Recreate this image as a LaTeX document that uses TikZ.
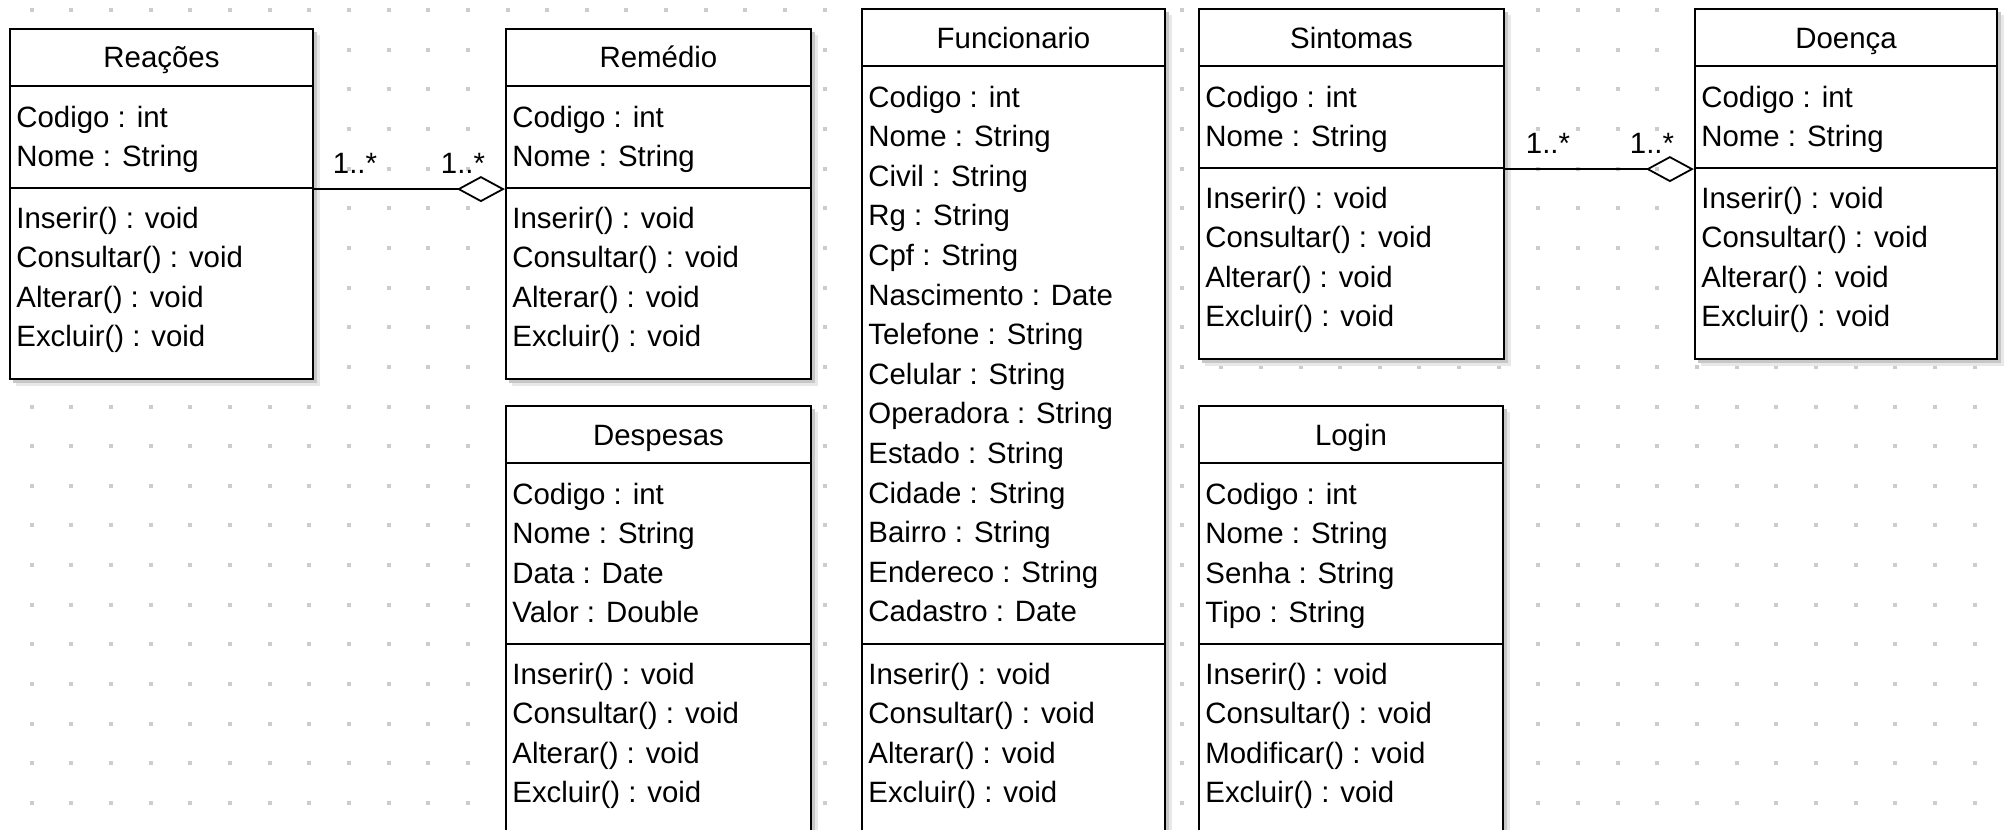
\documentclass[tikz,border=0pt]{standalone}
\usepackage{fontspec}
\setmainfont{Liberation Sans}
\usetikzlibrary{fit,arrows.meta}
\tikzset{
  umlbox/.style={draw=black, fill=white, line width=1.1pt, inner sep=0pt},
  rowtext/.style={anchor=base west, inner sep=0pt, font=\fontsize{14.7}{17}\selectfont},
  titletext/.style={anchor=base, inner sep=0pt, font=\fontsize{14.7}{17}\selectfont},
  mult/.style={anchor=base, inner sep=0pt, font=\fontsize{14.7}{17}\selectfont},
  assoc/.style={draw=black, line width=0.9pt, -{Diamond[open, length=24pt, width=13pt, line width=0.9pt]}},
  griddot/.style={fill=black!20},
  shadowfar/.style={fill=black!9},
  shadownear/.style={fill=black!22},
}
% #1 name, #2 L, #3 R, #4 T, #5 H1, #6 H2, #7 B, #8 title, #9 attributes
\newcommand\umlclass[9]{%
  \fill[shadowfar] (#2+6,#4+6) rectangle (#3+7,#7+7);
  \fill[shadownear] (#2+3,#4+3) rectangle (#3+4,#7+4);
  \node[umlbox, fit={(#2,#4) (#3,#5)}] (#1-title) {};
  \node[umlbox, fit={(#2,#5) (#3,#6)}] (#1-attr) {};
  \node[umlbox, fit={(#2,#6) (#3,#7)}] (#1-meth) {};
  \node[titletext] (#1-name) at ({(#2+#3)/2},{#4+39}) {#8};
  \foreach \t [count=\i] in {#9}
    \node[rowtext] (#1-a\i) at ({#2+6},{#5+41+(\i-1)*39.6}) {\t};
}
% #1 name, #2 L, #3 H2, #4 operations
\newcommand\umlops[4]{%
  \foreach \t [count=\i] in {#4}
    \node[rowtext] (#1-o\i) at ({#2+6},{#3+40+(\i-1)*39.6}) {\t};
}
\begin{document}
\begin{tikzpicture}[x=0.5pt,y=-0.5pt]
\useasboundingbox (0,0) rectangle (2004,830);
\clip (0,0) rectangle (2004,830);
\fill[white] (0,0) rectangle (2004,830);
% background dot grid
\foreach \gi in {0,...,50}
  \foreach \gj in {0,...,21}
    \fill[griddot] ({31.7+39.65*\gi-2},{10+39.65*\gj-2}) rectangle ++(4,4);

\umlclass{reacoes}{10}{313}{29}{86}{188}{379}{Reações}{{Codigo : int},{Nome : String}}
\umlops{reacoes}{10}{188}{{Inserir() : void},{Consultar() : void},{Alterar() : void},{Excluir() : void}}

\umlclass{remedio}{506}{811}{29}{86}{188}{379}{Remédio}{{Codigo : int},{Nome : String}}
\umlops{remedio}{506}{188}{{Inserir() : void},{Consultar() : void},{Alterar() : void},{Excluir() : void}}

\umlclass{despesas}{506}{811}{406}{463}{644}{880}{Despesas}{{Codigo : int},{Nome : String},{Data : Date},{Valor : Double}}
\umlops{despesas}{506}{644}{{Inserir() : void},{Consultar() : void},{Alterar() : void},{Excluir() : void}}

\umlclass{func}{862}{1165}{9}{66}{644}{880}{Funcionario}{{Codigo : int},{Nome : String},{Civil : String},{Rg : String},{Cpf : String},{Nascimento : Date},{Telefone : String},{Celular : String},{Operadora : String},{Estado : String},{Cidade : String},{Bairro : String},{Endereco : String},{Cadastro : Date}}
\umlops{func}{862}{644}{{Inserir() : void},{Consultar() : void},{Alterar() : void},{Excluir() : void}}

\umlclass{sintomas}{1199}{1504}{9}{66}{168}{359}{Sintomas}{{Codigo : int},{Nome : String}}
\umlops{sintomas}{1199}{168}{{Inserir() : void},{Consultar() : void},{Alterar() : void},{Excluir() : void}}

\umlclass{login}{1199}{1503}{406}{463}{644}{880}{Login}{{Codigo : int},{Nome : String},{Senha : String},{Tipo : String}}
\umlops{login}{1199}{644}{{Inserir() : void},{Consultar() : void},{Modificar() : void},{Excluir() : void}}

\umlclass{doenca}{1695}{1997}{9}{66}{168}{359}{Doença}{{Codigo : int},{Nome : String}}
\umlops{doenca}{1695}{168}{{Inserir() : void},{Consultar() : void},{Alterar() : void},{Excluir() : void}}

% associations
\draw[assoc] (reacoes-attr.south east) -- (remedio-attr.south west);
\draw[assoc] (sintomas-attr.south east) -- (doenca-attr.south west);
\node[mult] (m1) at (355,173) {1..*};
\node[mult] (m2) at (463,173) {1..*};
\node[mult] (m3) at (1548,153) {1..*};
\node[mult] (m4) at (1652,153) {1..*};
\end{tikzpicture}
\end{document}
